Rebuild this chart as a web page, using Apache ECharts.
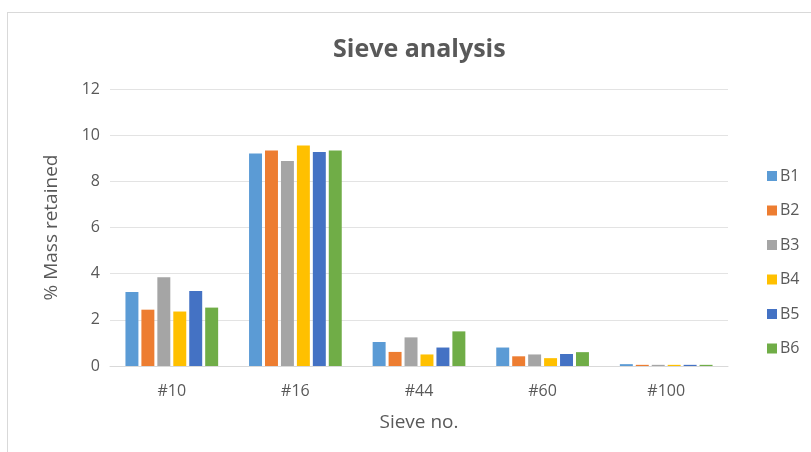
<!DOCTYPE html>
<html>
<head>
<meta charset="utf-8">
<script src="https://cdn.jsdelivr.net/npm/echarts@6/dist/echarts.min.js"></script>
<style>
  html, body { margin: 0; padding: 0; background: #ffffff; }
  #frame { position: absolute; left: 7px; top: 12px; right: -2px; bottom: -2px; border: 1px solid #d9d9d9; }
  #chart { width: 811px; height: 452px; position: absolute; left: 0; top: 0; }
</style>
</head>
<body>
<div id="frame"></div>
<div id="chart"></div>
<script>
// Sieve sizes on the category axis
const sieves = ['#10', '#16', '#44', '#60', '#100'];
const sampleNames = ['B1', 'B2', 'B3', 'B4', 'B5', 'B6'];

// % mass retained per sample, one value per sieve
const b1 = [3.21, 9.21, 1.04, 0.80, 0.08];
const b2 = [2.44, 9.34, 0.61, 0.42, 0.05];
const b3 = [3.85, 8.88, 1.24, 0.50, 0.05];
const b4 = [2.36, 9.55, 0.50, 0.34, 0.05];
const b5 = [3.25, 9.27, 0.80, 0.52, 0.05];
const b6 = [2.53, 9.34, 1.50, 0.60, 0.05];

const yTicks = [0, 2, 4, 6, 8, 10, 12];

const palette = ['#5B9BD5', '#ED7D31', '#A5A5A5', '#FFC000', '#4472C4', '#70AD47'];
const values = [b1, b2, b3, b4, b5, b6];
const textColor = '#595959';
const font = '"Open Sans", "Noto Sans", sans-serif';

const chart = echarts.init(document.getElementById('chart'), null, { renderer: 'canvas' });

chart.setOption({
  animation: false,
  color: palette,
  title: {
    text: 'Sieve analysis',
    left: 328,
    top: 32,
    textStyle: { fontFamily: font, fontSize: 25, fontWeight: 'bold', color: textColor }
  },
  legend: {
    orient: 'vertical',
    left: 762,
    top: 160,
    itemWidth: 10,
    itemHeight: 10,
    itemGap: 12.5,
    icon: 'rect',
    data: sampleNames,
    textStyle: { fontFamily: font, fontSize: 16, lineHeight: 22, color: textColor, padding: [0, 0, 0, -2] }
  },
  grid: { left: 110, right: 83, top: 89, bottom: 86 },
  xAxis: {
    type: 'category',
    data: sieves,
    name: 'Sieve no.',
    nameLocation: 'middle',
    nameGap: 47,
    nameTextStyle: { fontFamily: font, fontSize: 19, color: textColor },
    axisLine: { lineStyle: { color: '#d9d9d9', width: 1 } },
    axisTick: { show: false },
    axisLabel: { fontFamily: font, fontSize: 16, color: textColor, margin: 17 }
  },
  yAxis: {
    type: 'value',
    min: yTicks[0],
    max: yTicks[yTicks.length - 1],
    interval: 2,
    name: '% Mass retained',
    nameLocation: 'middle',
    nameGap: 49,
    nameTextStyle: { fontFamily: font, fontSize: 19, color: textColor },
    axisLine: { show: false },
    axisTick: { show: false },
    axisLabel: { fontFamily: font, fontSize: 16, color: textColor, margin: 10 },
    splitLine: { lineStyle: { color: '#e3e3e3', width: 1 } }
  },
  series: sampleNames.map((name, i) => ({
    name: name,
    type: 'bar',
    data: values[i],
    barGap: '23%',
    barCategoryGap: '25%'
  }))
});
</script>
</body>
</html>
